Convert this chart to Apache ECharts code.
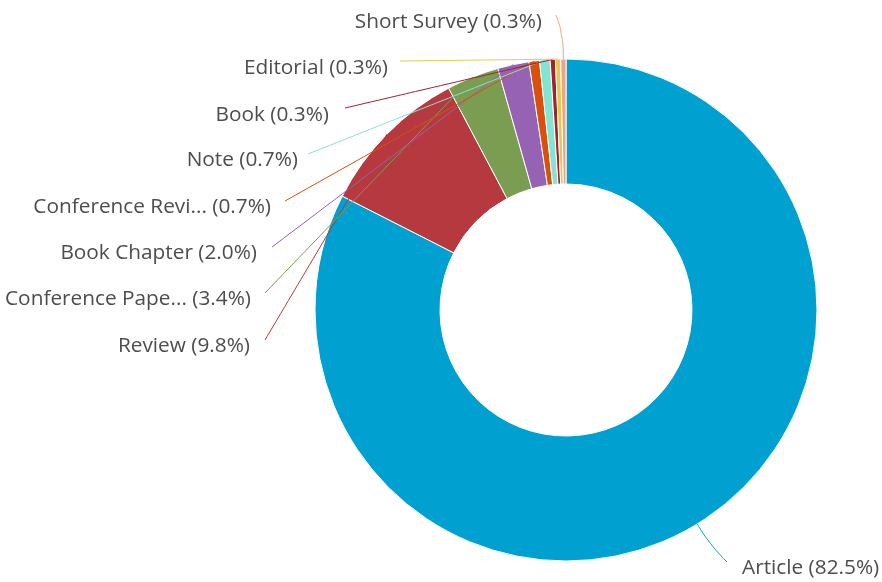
<!DOCTYPE html>
<html><head><meta charset="utf-8">
<script src="https://cdn.jsdelivr.net/npm/echarts@6/dist/echarts.min.js"></script>
<style>html,body{margin:0;padding:0;background:#fff}#c{width:882px;height:582px}</style>
</head><body><div id="c"></div>
<script>
// ---- data ----
const categories = ['Article', 'Review', 'Conference Paper', 'Book Chapter', 'Conference Review', 'Note', 'Book', 'Editorial', 'Short Survey'];
const counts = [245, 29, 10, 6, 2, 2, 1, 1, 1];
const colors = ['#00A0D0', '#B5393E', '#7B9D52', '#9562B4', '#D9500C', '#85E3D2', '#A0232E', '#E8C84C', '#F0A285'];

// ---- layout (label anchors, leader-line ends) ----
const CX = 566, CY = 310, R_IN = 126, R_OUT = 251;
const labelAnchors = [[742, 568, 'left'], [250, 346, 'right'], [251, 299, 'right'], [257, 253, 'right'], [271, 207, 'right'], [298, 160, 'right'], [329, 115, 'right'], [388, 68, 'right'], [542, 22, 'right']];
const lineEnds = [[727, 562], [265, 340], [265, 293], [272, 247], [285, 201], [308, 154], [345, 108], [400, 61], [556, 15]];
const curvedLine = [true, false, false, false, false, false, false, false, true];

const total = counts.reduce((a, b) => a + b, 0);
const midAngles = [];
{ let cum = 0; counts.forEach(v => { midAngles.push((cum + v / 2) / total * Math.PI * 2); cum += v; }); }

function shortName(n) { return n.length > 15 ? n.slice(0, 15) + '...' : n; }

const base = {
  type: 'pie',
  center: [CX, CY],
  radius: [R_IN, R_OUT],
  startAngle: 90,
  clockwise: true,
  avoidLabelOverlap: false,
  percentPrecision: 1,
  emphasis: { disabled: true },
  silent: true
};

const chart = echarts.init(document.getElementById('c'), null, { renderer: 'canvas' });
chart.setOption({
  animation: false,
  backgroundColor: '#ffffff',
  series: [
    Object.assign({}, base, {
      z: 2,
      itemStyle: { borderColor: '#ffffff', borderWidth: 1 },
      label: { show: false },
      labelLine: { show: false },
      data: categories.map((c, i) => ({ name: c, value: counts[i], itemStyle: { color: colors[i] } }))
    }),
    Object.assign({}, base, {
      z: 3,
      itemStyle: { color: 'rgba(0,0,0,0)', borderWidth: 0 },
      label: {
        show: true,
        position: 'outside',
        color: '#4d4d4d',
        fontFamily: 'Open Sans',
        fontSize: 20.8,
        formatter: p => shortName(p.name) + ' (' + p.percent.toFixed(1) + '%)'
      },
      labelLine: { show: true, smooth: 0.45, length: 10, length2: 10, lineStyle: { width: 1, opacity: 1 } },
      labelLayout: function (params) {
        const i = params.dataIndex;
        const a = midAngles[i];
        const sx = CX + R_OUT * Math.sin(a), sy = CY - R_OUT * Math.cos(a);
        const e = lineEnds[i];
        let m;
        if (curvedLine[i]) {
          m = [sx + 24 * Math.sin(a), sy - 24 * Math.cos(a)];
        } else {
          m = [(sx + e[0]) / 2, (sy + e[1]) / 2];
        }
        const la = labelAnchors[i];
        return { x: la[0], y: la[1], align: la[2], verticalAlign: 'middle', labelLinePoints: [[sx, sy], m, e] };
      },
      data: categories.map((c, i) => ({
        name: c, value: counts[i],
        labelLine: { lineStyle: { color: colors[i] } }
      }))
    })
  ]
});
</script>
</body></html>
